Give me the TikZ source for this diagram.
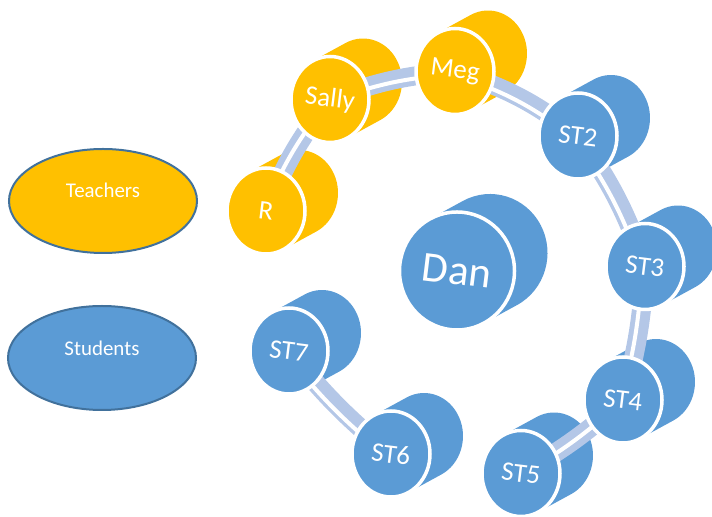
\documentclass[tikz,border=0pt]{standalone}
\usepackage{fontspec}
\setmainfont{Carlito}
\usetikzlibrary{shapes.geometric}
\definecolor{gold}{HTML}{FFC000}
\definecolor{sblue}{HTML}{5B9BD5}
\definecolor{barcol}{HTML}{B4C7E7}
\definecolor{rimcol}{HTML}{41719C}
% back (extruded) part of a disc: centre coordinate, x radius, y radius, colour
\newcommand\cylback[4]{%
  \pgfmathsetmacro\cbt{atan2(33*#3,-18*#2)}%
  \fill[#4] ([shift={(\cbt:#2bp and #3bp)}]#1) -- ++(33bp,18bp)
    arc[start angle=\cbt, end angle=\cbt-180, x radius=#2bp, y radius=#3bp]
    -- ++(-33bp,-18bp)
    arc[start angle=\cbt-180, end angle=\cbt-360, x radius=#2bp, y radius=#3bp]
    -- cycle;}
% connector bar between two disc centres: light band with an off-centre white stripe
\newcommand\barlink[3]{%
  \draw[barcol, line width=19bp] (#1) to[#3] (#2);
  \draw[white, line width=4bp] ([shift={(-3bp,-3bp)}]#1) to[#3] ([shift={(-3bp,-3bp)}]#2);}
\tikzset{
  face/.style={ellipse, draw=white, line width=3.5bp, inner sep=0pt,
    minimum width=78bp, minimum height=86bp, text=white,
    font=\fontsize{27}{27}\selectfont},
  bigface/.style={face, minimum width=115bp, minimum height=118bp,
    font=\fontsize{43}{43}\selectfont},
  legend/.style={ellipse, draw=rimcol, line width=2bp, inner sep=0pt,
    minimum width=188bp, minimum height=104bp},
  legtext/.style={text=white, font=\fontsize{21}{21}\selectfont}
}
\begin{document}
\begin{tikzpicture}[x=1bp,y=1bp]
\useasboundingbox (0,0) rectangle (712,517);
% disc centres
\coordinate (cR) at (266,306);
\coordinate (cSally) at (330,417.5);
\coordinate (cMeg) at (455,445.5);
\coordinate (cST2) at (578,381);
\coordinate (cST3) at (645,250.5);
\coordinate (cST4) at (623,117);
\coordinate (cST5) at (521,43.5);
\coordinate (cST6) at (391,63);
\coordinate (cST7) at (289,166);
\coordinate (cDan) at (457,246);
% legend
\node[legend, fill=gold] (teachers) at (103,316) {};
\node[legtext] (teacherstxt) at (103,327) {Teachers};
\node[legend, fill=sblue] (students) at (102,159) {};
\node[legtext] (studentstxt) at (102,169) {Students};
% backs
\cylback{cR}{39}{43}{gold}
\cylback{cSally}{39}{43}{gold}
\cylback{cMeg}{39}{43}{gold}
\cylback{cST2}{39}{43}{sblue}
\cylback{cST3}{39}{43}{sblue}
\cylback{cST4}{39}{43}{sblue}
\cylback{cST5}{39}{43}{sblue}
\cylback{cST6}{39}{43}{sblue}
\cylback{cST7}{39}{43}{sblue}
\cylback{cDan}{57.5}{59}{sblue}
% connectors
\barlink{cR}{cSally}{bend left=8}
\barlink{cSally}{cMeg}{bend left=8}
\barlink{cMeg}{cST2}{bend left=10}
\barlink{cST2}{cST3}{bend left=8}
\barlink{cST3}{cST4}{bend left=6}
\barlink{cST4}{cST5}{bend left=6}
\barlink{cST7}{cST6}{bend right=6}
% front faces
\node[face, fill=gold] (R) at (cR) {\rotatebox{-7}{R}};
\node[face, fill=gold] (sally) at (cSally) {\rotatebox{-7}{Sally}};
\node[face, fill=gold] (meg) at (cMeg) {\rotatebox{-7}{Meg}};
\node[face, fill=sblue] (st2) at (cST2) {\rotatebox{-7}{ST2}};
\node[face, fill=sblue] (st3) at (cST3) {\rotatebox{-7}{ST3}};
\node[face, fill=sblue] (st4) at (cST4) {\rotatebox{-7}{ST4}};
\node[face, fill=sblue] (st5) at (cST5) {\rotatebox{-7}{ST5}};
\node[face, fill=sblue] (st6) at (cST6) {\rotatebox{-7}{ST6}};
\node[face, fill=sblue] (st7) at (cST7) {\rotatebox{-7}{ST7}};
\node[bigface, fill=sblue] (dan) at (cDan) {\rotatebox{-7}{Dan}};
\end{tikzpicture}
\end{document}
